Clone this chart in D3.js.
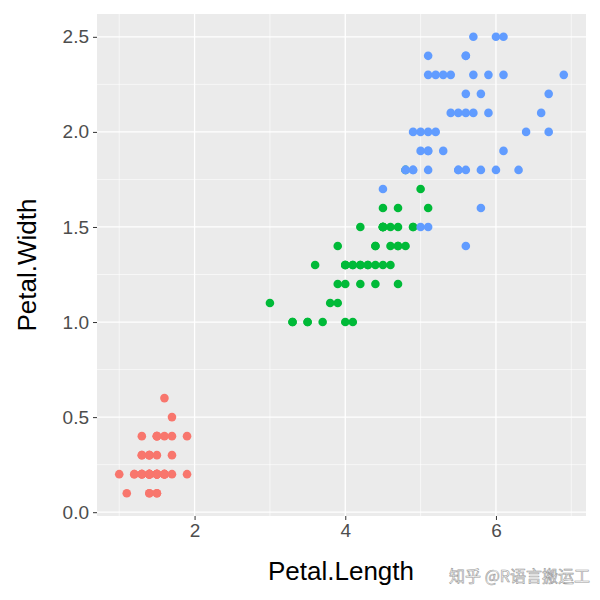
<!DOCTYPE html>
<html><head><meta charset="utf-8">
<script src="https://cdn.jsdelivr.net/npm/d3@7"></script>
<style>body{margin:0;background:#fff}</style>
</head><body><svg id="canvas"></svg>
<script>
// iris petal measurements, one array per species
const setosaLen = [1.4,1.4,1.3,1.5,1.4,1.7,1.4,1.5,1.4,1.5,1.5,1.6,1.4,1.1,1.2,1.5,1.3,1.4,1.7,1.5,1.7,1.5,1.0,1.7,1.9,1.6,1.6,1.5,1.4,1.6,1.6,1.5,1.5,1.4,1.5,1.2,1.3,1.4,1.3,1.5,1.3,1.3,1.3,1.6,1.9,1.4,1.6,1.4,1.5,1.4]
const setosaWid = [0.2,0.2,0.2,0.2,0.2,0.4,0.3,0.2,0.2,0.1,0.2,0.2,0.1,0.1,0.2,0.4,0.4,0.3,0.3,0.3,0.2,0.4,0.2,0.5,0.2,0.2,0.4,0.2,0.2,0.2,0.2,0.4,0.1,0.2,0.2,0.2,0.2,0.1,0.2,0.2,0.3,0.3,0.2,0.6,0.4,0.3,0.2,0.2,0.2,0.2]
const versiLen = [4.7,4.5,4.9,4.0,4.6,4.5,4.7,3.3,4.6,3.9,3.5,4.2,4.0,4.7,3.6,4.4,4.5,4.1,4.5,3.9,4.8,4.0,4.9,4.7,4.3,4.4,4.8,5.0,4.5,3.5,3.8,3.7,3.9,5.1,4.5,4.5,4.7,4.4,4.1,4.0,4.4,4.6,4.0,3.3,4.2,4.2,4.2,4.3,3.0,4.1]
const versiWid = [1.4,1.5,1.5,1.3,1.5,1.3,1.6,1.0,1.3,1.4,1.0,1.5,1.0,1.4,1.3,1.4,1.5,1.0,1.5,1.1,1.8,1.3,1.5,1.2,1.3,1.4,1.4,1.7,1.5,1.0,1.1,1.0,1.2,1.6,1.5,1.6,1.5,1.3,1.3,1.3,1.2,1.4,1.2,1.0,1.3,1.2,1.3,1.3,1.1,1.3]
const virgLen = [6.0,5.1,5.9,5.6,5.8,6.6,4.5,6.3,5.8,6.1,5.1,5.3,5.5,5.0,5.1,5.3,5.5,6.7,6.9,5.0,5.7,4.9,6.7,4.9,5.7,6.0,4.8,4.9,5.6,5.8,6.1,6.4,5.6,5.1,5.6,6.1,5.6,5.5,4.8,5.4,5.6,5.1,5.1,5.9,5.7,5.2,5.0,5.2,5.4,5.1]
const virgWid = [2.5,1.9,2.1,1.8,2.2,2.1,1.7,1.8,1.8,2.5,2.0,1.9,2.1,2.0,2.4,2.3,1.8,2.2,2.3,1.5,2.3,2.0,2.0,1.8,2.1,1.8,1.8,1.8,2.1,1.6,1.9,2.0,2.2,1.5,1.4,2.3,2.4,1.8,1.8,2.1,2.4,2.3,1.9,2.3,2.5,2.3,1.9,2.0,2.3,1.8]
const species = ["setosa","versicolor","virginica"]
const colors = ["#F8766D","#00BA38","#619CFF"]
const xTicks = [2,4,6]
const yTicks = [0.0,0.5,1.0,1.5,2.0,2.5]

let width = 600, height = 600
let panel = {left: 97, right: 586, top: 14, bottom: 516}

let svg = d3.select("#canvas").attr("width", width).attr("height", height)

let x = d3.scaleLinear().domain([0.705, 7.195]).range([panel.left, panel.right])
let y = d3.scaleLinear().domain([-0.02, 2.62]).range([panel.bottom, panel.top])

svg.append("rect").attr("x", panel.left).attr("y", panel.top)
    .attr("width", panel.right - panel.left).attr("height", panel.bottom - panel.top)
    .attr("fill", "#EBEBEB")

// minor grid
let xMinor = [1,3,5,7], yMinor = [0.25,0.75,1.25,1.75,2.25]
svg.selectAll(".xm").data(xMinor).enter().append("line")
    .attr("x1", d => x(d)).attr("x2", d => x(d)).attr("y1", panel.top).attr("y2", panel.bottom)
    .attr("stroke", "#fff").attr("stroke-width", 0.6)
svg.selectAll(".ym").data(yMinor).enter().append("line")
    .attr("y1", d => y(d)).attr("y2", d => y(d)).attr("x1", panel.left).attr("x2", panel.right)
    .attr("stroke", "#fff").attr("stroke-width", 0.6)
// major grid
svg.selectAll(".xg").data(xTicks).enter().append("line")
    .attr("x1", d => x(d)).attr("x2", d => x(d)).attr("y1", panel.top).attr("y2", panel.bottom)
    .attr("stroke", "#fff").attr("stroke-width", 1.3)
svg.selectAll(".yg").data(yTicks).enter().append("line")
    .attr("y1", d => y(d)).attr("y2", d => y(d)).attr("x1", panel.left).attr("x2", panel.right)
    .attr("stroke", "#fff").attr("stroke-width", 1.3)

let xAxis = svg.append("g").attr("transform", `translate(0,${panel.bottom})`)
    .call(d3.axisBottom(x).tickValues(xTicks).tickFormat(d3.format("d")).tickSize(4).tickPadding(4))
let yAxis = svg.append("g").attr("transform", `translate(${panel.left},0)`)
    .call(d3.axisLeft(y).tickValues(yTicks).tickFormat(d3.format(".1f")).tickSize(4).tickPadding(4))
for (let a of [xAxis, yAxis]) {
    a.select(".domain").remove()
    a.selectAll("line").attr("stroke", "#333")
    a.selectAll("text").attr("fill", "#4D4D4D").style("font-size", "19px").style("font-family", "Arial, Liberation Sans")
}

let groups = [[setosaLen, setosaWid], [versiLen, versiWid], [virgLen, virgWid]]
groups.forEach((g, i) => {
    svg.append("g").selectAll("circle").data(g[0]).enter().append("circle")
        .attr("cx", d => x(d)).attr("cy", (d, j) => y(g[1][j])).attr("r", 4.3)
        .attr("fill", colors[i])
})

svg.append("text").attr("x", 341).attr("y", 580)
    .attr("text-anchor", "middle").style("font-size", "26px").style("font-family", "Arial, Liberation Sans")
    .text("Petal.Length")
svg.append("text").attr("transform", `translate(36,${(panel.top + panel.bottom) / 2}) rotate(-90)`)
    .attr("text-anchor", "middle").style("font-size", "26px").style("font-family", "Arial, Liberation Sans")
    .text("Petal.Width")

svg.append("text").attr("x", 590).attr("y", 582).attr("text-anchor", "end")
    .style("font-size", "16px").style("font-family", "Noto Sans CJK SC")
    .attr("fill", "#fff").attr("stroke", "#999").attr("stroke-width", 0.6)
    .text("知乎 @R语言搬运工")
</script>
</body></html>
